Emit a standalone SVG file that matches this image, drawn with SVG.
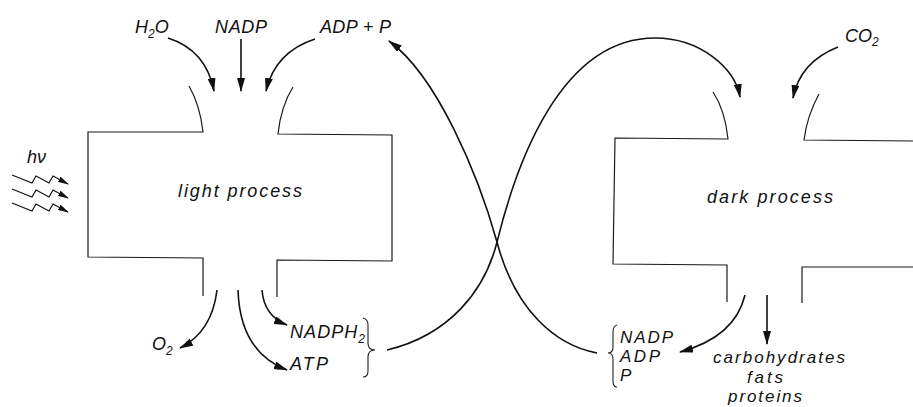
<svg xmlns="http://www.w3.org/2000/svg" width="913" height="407" viewBox="0 0 913 407">
<style>
  .box { fill: none; stroke: #1a1a1a; stroke-width: 1.2; }
  .lbl { font-family: "Liberation Sans", Arial, sans-serif; font-style: italic; font-size: 18px; fill: #111; }
  .stk { font-size: 17px; }
  .sub { font-size: 12px; }
  .arr { fill: none; stroke: #111; stroke-width: 1.6; marker-end: url(#ah); }
  .brace { fill: none; stroke: #222; stroke-width: 1.1; }
</style>
<defs>
  <marker id="ah" markerWidth="14" markerHeight="8" refX="13" refY="4" orient="auto" markerUnits="userSpaceOnUse">
    <path d="M0,0 L14,4 L0,8 z" fill="#111"/>
  </marker>
  <marker id="ahs" markerWidth="11" markerHeight="6" refX="10" refY="3" orient="auto" markerUnits="userSpaceOnUse">
    <path d="M0,0 L11,3 L0,6 z" fill="#111"/>
  </marker>
</defs>
<rect width="913" height="407" fill="#fff"/>

<g id="light-process">
  <path class="box" d="M189,86 Q200,105 203,132 L88,132 L88,257 L203,258 L203,296"/>
  <path class="box" d="M293,87 Q281,106 278,134 L392,135 L392,261 L277,260 L277,297"/>
  <text class="lbl" x="178" y="197" textLength="124" lengthAdjust="spacing">light process</text>
</g>

<g id="dark-process">
  <path class="box" d="M713,92 Q725,110 728,139 L615,138 L613,264 L727,265 L727,302"/>
  <path class="box" d="M819,94 Q807,116 804,140 L913,141"/>
  <path class="box" d="M913,267 L802,267 L802,303"/>
  <text class="lbl" x="707" y="203" textLength="126" lengthAdjust="spacing">dark process</text>
</g>

<g id="h2o"><text class="lbl" x="135" y="33">H<tspan class="sub" dy="5">2</tspan><tspan dy="-5">O</tspan></text></g>
<g id="nadp-in"><text class="lbl" x="215" y="33" textLength="52" lengthAdjust="spacing">NADP</text></g>
<g id="adp-p"><text class="lbl" x="320" y="33" textLength="71" lengthAdjust="spacing">ADP + P</text></g>
<g id="co2"><text class="lbl" x="845" y="42">CO<tspan class="sub" dy="4">2</tspan></text></g>
<g id="hv">
  <text class="lbl" x="27" y="163">hν</text>
</g>
<g id="o2"><text class="lbl" x="152" y="350">O<tspan class="sub" dy="5">2</tspan></text></g>
<g id="nadph2-atp">
  <text class="lbl" x="290" y="338" textLength="75" lengthAdjust="spacing">NADPH<tspan class="sub" dy="5">2</tspan></text>
  <text class="lbl" x="290" y="370" textLength="38" lengthAdjust="spacing">ATP</text>
  <path class="brace" d="M363,318 Q368,319 368,325 L368,343 Q368,350 375,350 Q368,350 368,357 L368,371 Q368,377 363,377"/>
</g>
<g id="nadp-adp-p">
  <text class="lbl stk" x="620" y="343" textLength="53" lengthAdjust="spacing">NADP</text>
  <text class="lbl stk" x="620" y="362" textLength="40" lengthAdjust="spacing">ADP</text>
  <text class="lbl stk" x="620" y="381">P</text>
  <path class="brace" d="M617,325 Q613,326 613,332 L613,347 Q613,353 608,353 Q613,353 613,359 L613,381 Q613,387 617,387"/>
</g>
<g id="products">
  <text class="lbl stk" x="713" y="363" textLength="132" lengthAdjust="spacing">carbohydrates</text>
  <text class="lbl stk" x="747" y="383" textLength="36" lengthAdjust="spacing">fats</text>
  <text class="lbl stk" x="728" y="402" textLength="74" lengthAdjust="spacing">proteins</text>
</g>

<g id="connectors">
  <!-- inputs to light process -->
  <path class="arr" d="M168,38 Q206,50 214,91"/>
  <path class="arr" d="M241,39 L241,91"/>
  <path class="arr" d="M315,39 Q275,52 266,91"/>
  <!-- light quanta -->
  <polyline class="arr" style="stroke-width:1.2; marker-end:url(#ahs)" points="12,175 32,183 36,176 49,183 53,176 68,184"/>
  <polyline class="arr" style="stroke-width:1.2; marker-end:url(#ahs)" points="12,189 32,197 36,190 49,197 53,190 68,198"/>
  <polyline class="arr" style="stroke-width:1.2; marker-end:url(#ahs)" points="12,203 32,211 36,204 49,211 53,204 68,212"/>
  <!-- outputs of light process -->
  <path class="arr" d="M217,290 Q212,332 180,348"/>
  <path class="arr" d="M238,290 Q240,352 287,370"/>
  <path class="arr" d="M262,290 Q264,316 287,325"/>
  <!-- cross-over cycle -->
  <path class="arr" d="M387,350 C450,335 485,290 497,242 C516,165 560,38 655,38 C700,38 735,68 740,97"/>
  <path class="arr" d="M597,353 C555,345 515,310 497,242 C478,174 437,76 389,41"/>
  <!-- dark process -->
  <path class="arr" d="M838,47 Q800,62 793,98"/>
  <path class="arr" d="M745,295 Q735,337 680,352"/>
  <path class="arr" d="M767,295 L767,344"/>
</g>
</svg>
